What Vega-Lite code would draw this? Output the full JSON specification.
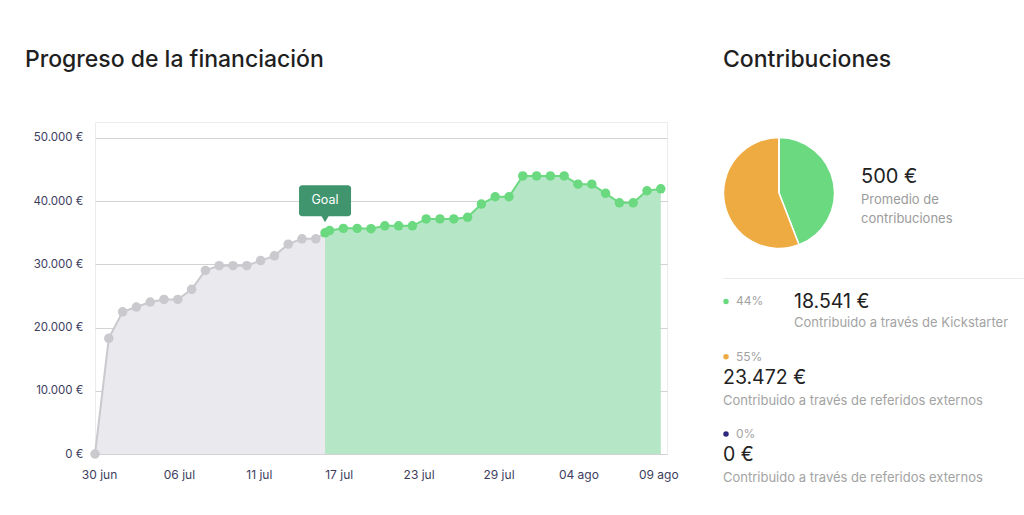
{
  "$schema": "https://vega.github.io/schema/vega-lite/v6.json",
  "background": "white",
  "padding": {"left": 24, "top": 48, "right": 0, "bottom": 0},
  "config": {
    "font": "Inter",
    "view": {"stroke": "#ececec"},
    "title": {"anchor": "start", "frame": "group", "fontSize": 23, "fontWeight": 500, "color": "#1f1f1f", "baseline": "alphabetic", "offset": 50, "font": "Inter"}
  },
  "datasets": {
    "progreso": [
      {"dia": 0, "importe": 0},
      {"dia": 1, "importe": 18300},
      {"dia": 2, "importe": 22500},
      {"dia": 3, "importe": 23250},
      {"dia": 4, "importe": 24050},
      {"dia": 5, "importe": 24450},
      {"dia": 6, "importe": 24450},
      {"dia": 7, "importe": 26050},
      {"dia": 8, "importe": 29050},
      {"dia": 9, "importe": 29800},
      {"dia": 10, "importe": 29800},
      {"dia": 11, "importe": 29800},
      {"dia": 12, "importe": 30600},
      {"dia": 13, "importe": 31350},
      {"dia": 14, "importe": 33200},
      {"dia": 15, "importe": 34050},
      {"dia": 16, "importe": 34050},
      {"dia": 16.67, "importe": 35000},
      {"dia": 17, "importe": 35350},
      {"dia": 18, "importe": 35700},
      {"dia": 19, "importe": 35700},
      {"dia": 20, "importe": 35650},
      {"dia": 21, "importe": 36100},
      {"dia": 22, "importe": 36100},
      {"dia": 23, "importe": 36100},
      {"dia": 24, "importe": 37200},
      {"dia": 25, "importe": 37200},
      {"dia": 26, "importe": 37200},
      {"dia": 27, "importe": 37450},
      {"dia": 28, "importe": 39550},
      {"dia": 29, "importe": 40700},
      {"dia": 30, "importe": 40700},
      {"dia": 31, "importe": 44000},
      {"dia": 32, "importe": 44000},
      {"dia": 33, "importe": 44000},
      {"dia": 34, "importe": 44000},
      {"dia": 35, "importe": 42700},
      {"dia": 36, "importe": 42700},
      {"dia": 37, "importe": 41250},
      {"dia": 38, "importe": 39750},
      {"dia": 39, "importe": 39750},
      {"dia": 40, "importe": 41650},
      {"dia": 41, "importe": 41950}
    ],
    "meta": [
      {"dia": 16.67, "importe": 35000, "etiqueta": "Goal"}
    ],
    "contribuciones": [
      {"id": "kickstarter", "importe": 18541, "pct": "44%", "importe_txt": "18.541 €", "descripcion": "Contribuido a través de Kickstarter"},
      {"id": "externos", "importe": 23472, "pct": "55%", "importe_txt": "23.472 €", "descripcion": "Contribuido a través de referidos externos"},
      {"id": "otros", "importe": 0, "pct": "0%", "importe_txt": "0 €", "descripcion": "Contribuido a través de referidos externos"}
    ],
    "resumen": [
      {"promedio": "500 €", "etiqueta": ["Promedio de", "contribuciones"]}
    ]
  },
  "hconcat": [
    {
      "width": 572,
      "height": 332,
      "title": {"text": "Progreso de la financiación", "dx": -70},
      "encoding": {
        "x": {
          "field": "dia", "type": "quantitative",
          "scale": {"domain": [0, 41.45], "nice": false, "zero": false},
          "axis": {
            "values": [0.29, 6.08, 11.87, 17.66, 23.45, 29.24, 35.03, 40.82],
            "labelExpr": "['30 jun','06 jul','11 jul','17 jul','23 jul','29 jul','04 ago','09 ago'][round((datum.value - 0.29) / 5.79)]",
            "title": null, "grid": false, "domain": false, "ticks": false,
            "labelPadding": 15, "labelFontSize": 12, "labelColor": "#3d3d5e", "labelFont": "Inter"
          }
        },
        "y": {
          "field": "importe", "type": "quantitative",
          "scale": {"domain": [0, 52530], "nice": false},
          "axis": {
            "values": [0, 10000, 20000, 30000, 40000, 50000],
            "labelExpr": "replace(format(datum.value, ','), ',', '.') + ' €'",
            "title": null, "grid": true, "gridColor": "#d2d2d2", "domain": false, "ticks": false,
            "labelPadding": 12, "labelFontSize": 11.5, "labelColor": "#3d3d5e", "labelFont": "Inter"
          }
        }
      },
      "layer": [
        {
          "data": {"name": "progreso"},
          "transform": [{"filter": "datum.dia <= 16.67"}],
          "mark": {"type": "area", "color": "#e9e9ee", "opacity": 1}
        },
        {
          "data": {"name": "progreso"},
          "transform": [{"filter": "datum.dia >= 16.67"}],
          "mark": {"type": "area", "color": "#b5e6c6", "opacity": 1}
        },
        {
          "data": {"name": "progreso"},
          "transform": [{"filter": "datum.dia <= 16.67"}],
          "mark": {"type": "line", "color": "#c9c9ce", "strokeWidth": 2}
        },
        {
          "data": {"name": "progreso"},
          "transform": [{"filter": "datum.dia >= 16.67"}],
          "mark": {"type": "line", "color": "#6bd980", "strokeWidth": 2}
        },
        {
          "data": {"name": "progreso"},
          "mark": {"type": "circle", "size": 90, "opacity": 1},
          "encoding": {
            "color": {"condition": {"test": "datum.dia >= 16.67", "value": "#6bd980"}, "value": "#c9c9ce"}
          }
        },
        {
          "data": {"name": "meta"},
          "mark": {"type": "rect", "width": 52, "height": 31, "cornerRadius": 3, "color": "#40956f"},
          "encoding": {"yOffset": {"value": -32}}
        },
        {
          "data": {"name": "meta"},
          "mark": {"type": "point", "shape": "triangle-down", "size": 60, "filled": true, "opacity": 1, "color": "#40956f"},
          "encoding": {"yOffset": {"value": -14}}
        },
        {
          "data": {"name": "meta"},
          "mark": {"type": "text", "color": "white", "fontSize": 12.5, "baseline": "middle", "align": "center"},
          "encoding": {"text": {"field": "etiqueta"}, "yOffset": {"value": -33}}
        }
      ]
    },
    {
      "vconcat": [
        {
          "width": 112,
          "height": 142,
          "view": {"stroke": null},
          "title": {"text": "Contribuciones"},
          "layer": [
            {
              "data": {"name": "contribuciones"},
              "mark": {"type": "arc", "outerRadius": 55.5, "stroke": "white", "strokeWidth": 1.5},
              "encoding": {
                "theta": {"field": "importe", "type": "quantitative", "stack": true},
                "color": {"field": "id", "type": "nominal", "scale": {"domain": ["kickstarter", "externos", "otros"], "range": ["#6bd980", "#eeab42", "#2d2a7e"]}, "legend": null},
                "order": {"field": "id", "sort": "descending"}
              }
            },
            {
              "data": {"name": "resumen"},
              "mark": {"type": "text", "align": "left", "baseline": "alphabetic", "dx": 82, "dy": -10, "fontSize": 20, "color": "#222222"},
              "encoding": {"text": {"field": "promedio"}}
            },
            {
              "data": {"name": "resumen"},
              "mark": {"type": "text", "align": "left", "baseline": "alphabetic", "dx": 82, "dy": 11, "fontSize": 13, "lineHeight": 19, "color": "#9b9b9b"},
              "encoding": {"text": {"field": "etiqueta"}}
            }
          ]
        },
        {
          "width": 300,
          "height": 210,
          "data": {"name": "contribuciones"},
          "view": {"stroke": "#eeeae8", "strokeDash": [300, 2000], "strokeWidth": 1},
          "encoding": {
            "y": {"field": "id", "type": "nominal", "scale": {"type": "point", "domain": ["kickstarter", "externos", "otros"], "range": [1.4, 156], "padding": 0}, "axis": null},
            "color": {"field": "id", "type": "nominal", "scale": {"domain": ["kickstarter", "externos", "otros"], "range": ["#6bd980", "#eeab42", "#2d2a7e"]}, "legend": null}
          },
          "layer": [
            {
              "transform": [{"filter": "datum.id !== 'kickstarter'"}],
              "layer": [
                {
                  "mark": {"type": "circle", "size": 30, "opacity": 1},
                  "encoding": {"xOffset": {"value": -147}}
                },
                {
                  "mark": {"type": "text", "align": "left", "baseline": "middle", "dx": -137, "fontSize": 12, "color": "#a3a3a3"},
                  "encoding": {"text": {"field": "pct"}, "color": {"value": "#a3a3a3"}}
                },
                {
                  "mark": {"type": "text", "align": "left", "baseline": "alphabetic", "dx": -150, "dy": 27, "fontSize": 19.5, "color": "#222222"},
                  "encoding": {"text": {"field": "importe_txt"}, "color": {"value": "#222222"}}
                },
                {
                  "mark": {"type": "text", "align": "left", "baseline": "alphabetic", "dx": -150, "dy": 48, "fontSize": 13, "color": "#a3a3a3"},
                  "encoding": {"text": {"field": "descripcion"}, "color": {"value": "#a3a3a3"}}
                }
              ]
            },
            {
              "transform": [{"filter": "datum.id === 'kickstarter'"}],
              "layer": [
                {
                  "mark": {"type": "circle", "size": 30, "opacity": 1},
                  "encoding": {"xOffset": {"value": -147}, "yOffset": {"value": 22}}
                },
                {
                  "mark": {"type": "text", "align": "left", "baseline": "middle", "dx": -137, "dy": 22, "fontSize": 12, "color": "#a3a3a3"},
                  "encoding": {"text": {"field": "pct"}, "color": {"value": "#a3a3a3"}}
                },
                {
                  "mark": {"type": "text", "align": "left", "baseline": "alphabetic", "dx": -79, "dy": 28.3, "fontSize": 19.5, "color": "#222222"},
                  "encoding": {"text": {"field": "importe_txt"}, "color": {"value": "#222222"}}
                },
                {
                  "mark": {"type": "text", "align": "left", "baseline": "alphabetic", "dx": -79, "dy": 48, "fontSize": 13, "color": "#a3a3a3"},
                  "encoding": {"text": {"field": "descripcion"}, "color": {"value": "#a3a3a3"}}
                }
              ]
            }
          ]
        }
      ],
      "spacing": 13
    }
  ],
  "spacing": 41
}
